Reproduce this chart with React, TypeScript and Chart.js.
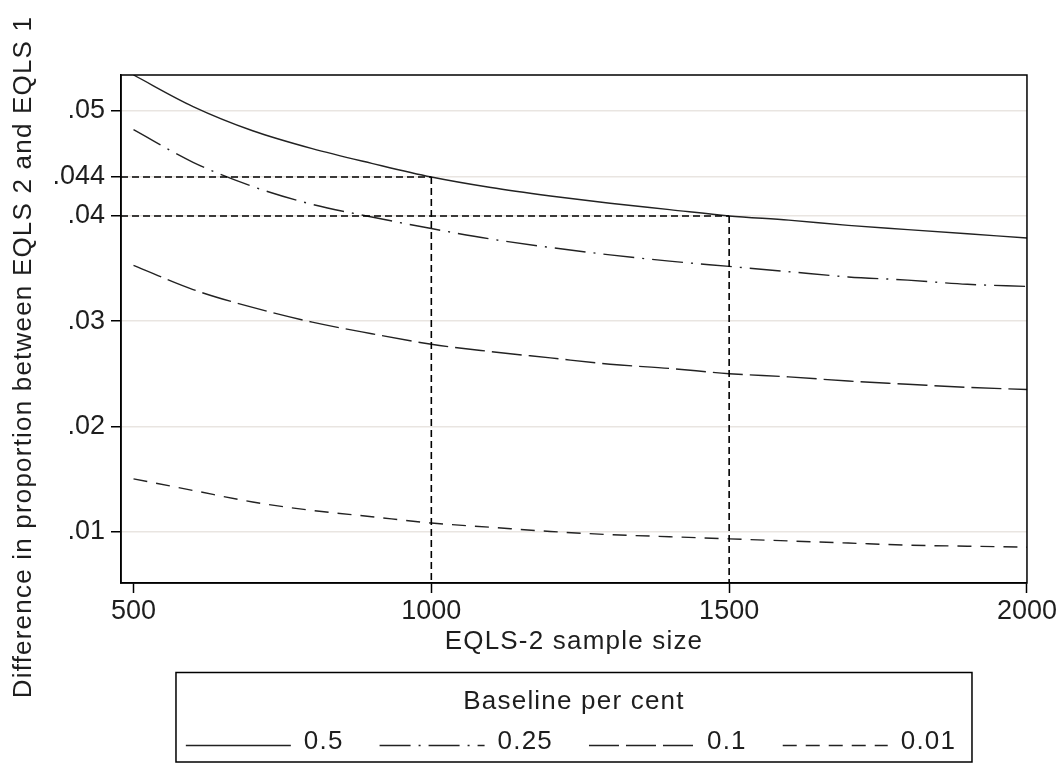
import React, { useEffect, useRef } from "react";
import { Chart, registerables } from "chart.js";

Chart.register(...registerables);

// ---- data ----
const sampleSizes = [500, 600, 700, 800, 900, 1000, 1100, 1200, 1300, 1400, 1500, 1600, 1700, 1800, 1900, 2000];
const base050 = [0.0534, 0.0504, 0.0481, 0.0464, 0.045, 0.0437, 0.0427, 0.0419, 0.0412, 0.0406, 0.04, 0.0396, 0.0391, 0.0387, 0.0383, 0.0379];
const base025 = [0.0482, 0.0451, 0.0428, 0.0411, 0.0399, 0.0388, 0.0378, 0.037, 0.0363, 0.0357, 0.0352, 0.0347, 0.0342, 0.0339, 0.0335, 0.0333];
const base010 = [0.0353, 0.033, 0.0313, 0.0299, 0.0288, 0.0278, 0.0271, 0.0265, 0.0259, 0.0255, 0.025, 0.0247, 0.0243, 0.024, 0.0237, 0.0235];
const base001 = [0.015, 0.0139, 0.0128, 0.012, 0.0114, 0.0108, 0.0104, 0.01, 0.0097, 0.0095, 0.0093, 0.0091, 0.0089, 0.0087, 0.0086, 0.0085];
const seriesLabels = ["0.5", "0.25", "0.1", "0.01"];
const seriesDashes: number[][] = [[], [31, 8, 2, 8], [30, 7], [14, 9]];

const xTicks = [500, 1000, 1500, 2000];
const yTickValues = [0.01, 0.02, 0.03, 0.04, 0.0437, 0.05];
const yTickLabels = [".01", ".02", ".03", ".04", ".044", ".05"];

const refSampleSizes = [1000, 1500];
const refDifferences = [0.0437, 0.04];

const legendTitle = "Baseline per cent";
const xTitle = "EQLS-2 sample size";
const yTitle = "Difference in proportion between EQLS 2 and EQLS 1";

const FONT = "'Liberation Sans', Arial, Helvetica, sans-serif";
const TEXT = "#1e1e1e";
const LINE = "#222222";

const overlay = {
  id: "overlay",
  afterDatasetsDraw(chart: any) {
    const { ctx, chartArea: a, scales } = chart;
    const xs = scales.x;
    const ys = scales.y;
    ctx.save();
    // reference lines
    ctx.strokeStyle = "#000";
    ctx.lineWidth = 1.6;
    ctx.setLineDash([7, 4]);
    refSampleSizes.forEach((n, i) => {
      const px = xs.getPixelForValue(n);
      const py = ys.getPixelForValue(refDifferences[i]);
      ctx.beginPath();
      ctx.moveTo(a.left, py);
      ctx.lineTo(px, py);
      ctx.stroke();
      ctx.beginPath();
      ctx.moveTo(px, py);
      ctx.lineTo(px, a.bottom);
      ctx.stroke();
    });
    // frame
    ctx.setLineDash([]);
    ctx.lineWidth = 1.5;
    ctx.strokeRect(a.left, a.top, a.right - a.left, a.bottom - a.top);
    ctx.restore();
  },
  afterDraw(chart: any) {
    const { ctx, chartArea: a } = chart;
    const cx = (a.left + a.right) / 2;
    ctx.save();
    ctx.fillStyle = TEXT;
    ctx.font = `26px ${FONT}`;
    (ctx as any).letterSpacing = "1.2px";

    // x title
    ctx.textAlign = "center";
    ctx.textBaseline = "alphabetic";
    ctx.fillText(xTitle, cx, a.bottom + 66);

    // y title
    ctx.save();
    ctx.translate(31, 357);
    ctx.rotate(-Math.PI / 2);
    ctx.textAlign = "center";
    ctx.fillText(yTitle, 0, 0);
    ctx.restore();

    // legend box
    const boxW = 796;
    const boxL = cx - boxW / 2;
    const boxT = a.bottom + 89.5;
    const boxH = 89.5;
    ctx.strokeStyle = "#000";
    ctx.lineWidth = 1.5;
    ctx.strokeRect(boxL, boxT, boxW, boxH);

    ctx.textAlign = "center";
    ctx.fillText(legendTitle, cx, boxT + 36);

    const sampleLen = 105;
    const gapText = 13;
    const gapItem = 36;
    const widths = seriesLabels.map((l) => ctx.measureText(l).width);
    const total = widths.reduce((s, w) => s + sampleLen + gapText + w, 0) + gapItem * (seriesLabels.length - 1);
    let x = cx - total / 2 - 3;
    const lineY = boxT + 73;
    const textY = boxT + 76;
    ctx.textAlign = "left";
    chart.data.datasets.forEach((ds: any, i: number) => {
      ctx.strokeStyle = ds.borderColor;
      ctx.lineWidth = ds.borderWidth;
      ctx.setLineDash(ds.borderDash || []);
      ctx.beginPath();
      ctx.moveTo(x, lineY);
      ctx.lineTo(x + sampleLen, lineY);
      ctx.stroke();
      ctx.setLineDash([]);
      x += sampleLen + gapText;
      ctx.fillText(ds.label, x, textY);
      x += widths[i] + gapItem;
    });
    ctx.restore();
  },
};

export default function App() {
  const ref = useRef<HTMLCanvasElement>(null);
  useEffect(() => {
    document.body.style.margin = "0";
    const seriesValues = [base050, base025, base010, base001];
    const chart = new Chart(ref.current as HTMLCanvasElement, {
      type: "line",
      data: {
        datasets: seriesValues.map((vals, i) => ({
          label: seriesLabels[i],
          data: sampleSizes.map((n, j) => ({ x: n, y: vals[j] })),
          borderColor: LINE,
          borderWidth: 1.4,
          borderDash: seriesDashes[i],
          pointRadius: 0,
          fill: false,
          cubicInterpolationMode: "monotone" as const,
        })),
      },
      options: {
        responsive: false,
        animation: false,
        layout: { padding: { left: 0, top: 75, right: 32, bottom: 140 } },
        plugins: {
          legend: { display: false },
          tooltip: { enabled: false },
          title: { display: false },
        },
        scales: {
          x: {
            type: "linear",
            min: 479,
            max: 2000,
            afterBuildTicks: (s: any) => {
              s.ticks = xTicks.map((v) => ({ value: v }));
            },
            afterFit: (s: any) => {
              s.height = 40;
            },
            ticks: {
              font: { family: FONT, size: 27 },
              color: TEXT,
              padding: 2,
              maxRotation: 0,
              autoSkip: false,
              callback: (v: any) => String(v),
            },
            grid: { drawOnChartArea: false, drawTicks: true, tickLength: 10, tickColor: "#000", tickWidth: 1.5 },
            border: { display: true, color: "#000", width: 1.5 },
          },
          y: {
            type: "linear",
            min: 0.0051,
            max: 0.0534,
            afterBuildTicks: (s: any) => {
              s.ticks = yTickValues.map((v) => ({ value: v }));
            },
            afterFit: (s: any) => {
              s.width = 121;
            },
            ticks: {
              font: { family: FONT, size: 27 },
              color: TEXT,
              padding: 6,
              autoSkip: false,
              callback: (v: any) => {
                const i = yTickValues.indexOf(Number(v));
                return i >= 0 ? yTickLabels[i] : "";
              },
            },
            grid: { color: "#e9e5e1", lineWidth: 1.5, tickLength: 10, tickColor: "#000", tickWidth: 1.5 },
            border: { display: true, color: "#000", width: 1.5 },
          },
        },
      },
      plugins: [overlay],
    });
    return () => chart.destroy();
  }, []);
  return (
    <div style={{ width: 1059, height: 763, background: "#fff" }}>
      <canvas ref={ref} width={1059} height={763} style={{ display: "block" }} />
    </div>
  );
}
